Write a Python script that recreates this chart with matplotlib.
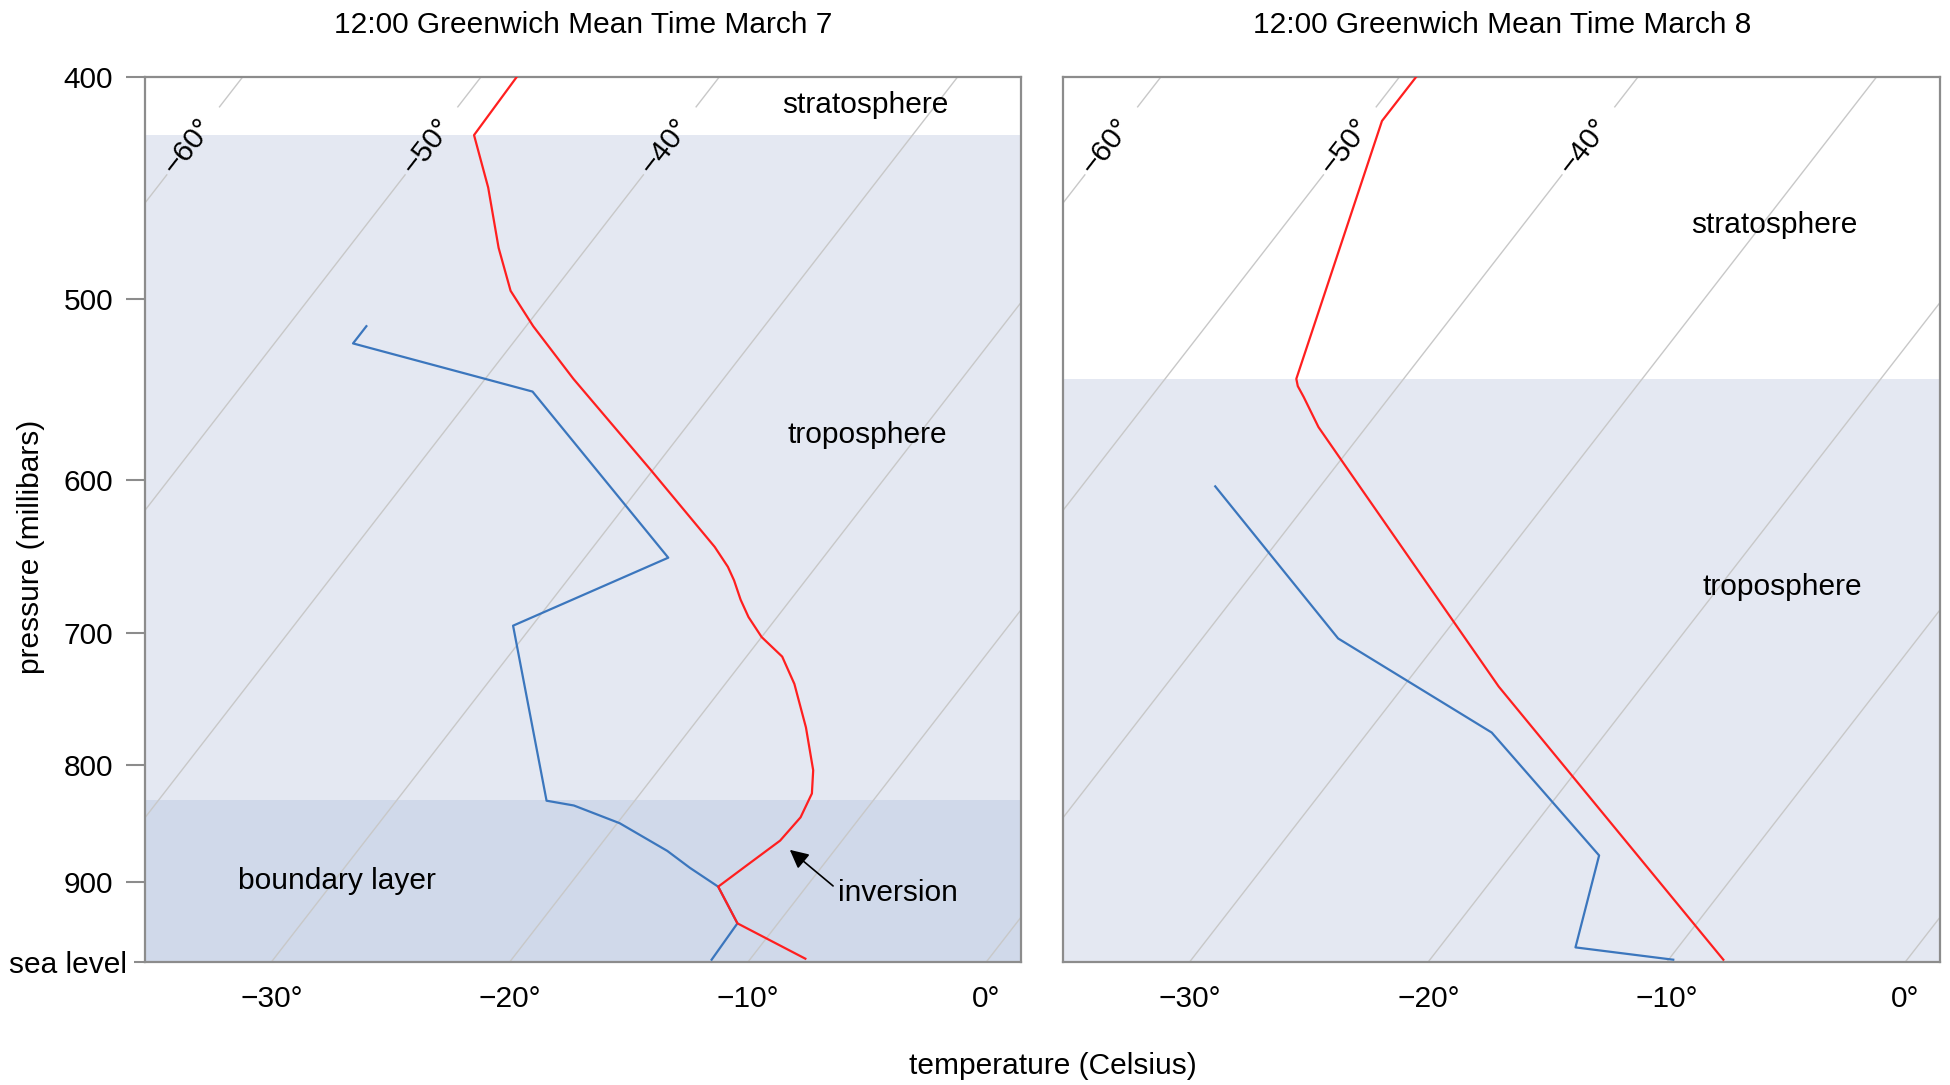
import numpy as np
import matplotlib
matplotlib.use("Agg")
import matplotlib.pyplot as plt
from matplotlib.ticker import FixedLocator, FixedFormatter, NullLocator

plt.rcParams['font.family'] = ['Liberation Sans', 'DejaVu Sans']
FS = 21.5

# soundings (pressure in millibars, temperature in Celsius)
p_temp_mar7 = [400, 424, 447, 475, 496, 514, 542, 594, 642, 655, 664, 677,
               689, 703, 717, 737, 770, 804, 823, 843, 863, 885, 904, 938, 972]
t_mar7 = [-48.5, -48.4, -46.1, -43.7, -41.8, -39.7, -36.3, -30.1, -24.9,
          -23.7, -23.0, -22.1, -21.2, -20.0, -18.5, -17.1, -15.2, -13.5, -12.8,
          -12.5, -12.6, -13.2, -13.7, -11.7, -7.7]
p_dew_mar7 = [514, 523, 549, 649, 695, 829, 833, 848, 872, 887, 904, 938, 973]
td_mar7 = [-46.7, -46.7, -37.6, -26.5, -30.8, -23.7, -22.4, -19.9, -17.0,
           -15.5, -13.7, -11.7, -11.6]

p_temp_mar8 = [400, 418, 542, 546, 552, 569, 586, 739, 973]
t_mar8 = [-49.3, -49.3, -44.5, -44.2, -43.6, -42.0, -40.2, -26.0, -7.7]
p_dew_mar8 = [604, 704, 774, 876, 961, 973]
td_mar8 = [-44.4, -34.3, -24.8, -16.3, -14.3, -9.8]

tropopause = [424, 542]      # mb, mar 7 / mar 8
boundary_top_mar7 = 828
titles = ["12:00 Greenwich Mean Time March 7", "12:00 Greenwich Mean Time March 8"]

p_ticks = [400, 500, 600, 700, 800, 900]
t_ticks = [-30, -20, -10, 0]
t_labels = ["\u221230\u00b0", "\u221220\u00b0", "\u221210\u00b0", "0\u00b0"]
isotherms = list(range(-80, 20, 10))
labelled_isotherms = [-60, -50, -40]

P_BOTTOM = 975
P_TOP = 400
K_SKEW = 32.3
ISO_LABEL_P = 429
ISO_GAP = (413, 441)

TROPO_C = "#e4e8f2"
BOUND_C = "#d0d9ea"
RED = "#ff1f1f"
BLUE = "#3b76bd"
GRID_C = "#c8c8c8"
SPINE_C = "#8c8c8c"


def skew_x(t, p):
    return np.asarray(t, float) + K_SKEW * np.log(P_BOTTOM / np.asarray(p, float))


fig = plt.figure(figsize=(19.5, 10.85), dpi=100)
ax1 = fig.add_axes([0.0745, 0.1136, 0.4491, 0.8152])
ax2 = fig.add_axes([0.5453, 0.1136, 0.4496, 0.8152])

for i, ax in enumerate([ax1, ax2]):
    ax.set_yscale('log')
    ax.set_ylim(P_BOTTOM, P_TOP)
    ax.set_xlim(-35.3, 1.45)
    ax.yaxis.set_minor_locator(NullLocator())
    ax.set_xticks(t_ticks, t_labels)
    ax.tick_params(axis='x', length=0, pad=17, labelsize=FS)
    for s in ax.spines.values():
        s.set_color(SPINE_C)
        s.set_linewidth(1.6)

    ax.axhspan(tropopause[i], P_BOTTOM, color=TROPO_C, lw=0, zorder=0)

    # skewed isotherms
    pl = np.geomspace(P_BOTTOM, P_TOP, 300)
    for t in isotherms:
        if t in labelled_isotherms:
            for seg in (pl[pl >= ISO_GAP[1]], pl[pl <= ISO_GAP[0]]):
                ax.plot(skew_x(t, seg), seg, color=GRID_C, lw=1.0, zorder=1)
        else:
            ax.plot(skew_x(t, pl), pl, color=GRID_C, lw=1.0, zorder=1)

    ax.text(0.5, 1.059, titles[i], transform=ax.transAxes, ha='center',
            va='center', fontsize=FS)

ax1.axhspan(boundary_top_mar7, P_BOTTOM, color=BOUND_C, lw=0, zorder=0.5)

ax1.set_yticks(p_ticks, [str(p) for p in p_ticks])
ax1.yaxis.set_minor_locator(FixedLocator([P_BOTTOM]))
ax1.yaxis.set_minor_formatter(FixedFormatter(["sea level"]))
ax1.tick_params(axis='y', which='major', length=13.4, width=1.5, color=SPINE_C,
                pad=9.6, labelsize=FS)
ax1.tick_params(axis='y', which='minor', length=8, width=1.5, color=SPINE_C,
                pad=5, labelsize=FS)
ax2.set_yticks([])

ax1.plot(skew_x(td_mar7, p_dew_mar7), p_dew_mar7, color=BLUE, lw=1.6, zorder=3)
ax1.plot(skew_x(t_mar7, p_temp_mar7), p_temp_mar7, color=RED, lw=1.6, zorder=4)
ax2.plot(skew_x(td_mar8, p_dew_mar8), p_dew_mar8, color=BLUE, lw=1.6, zorder=3)
ax2.plot(skew_x(t_mar8, p_temp_mar8), p_temp_mar8, color=RED, lw=1.6, zorder=4)

# isotherm labels, rotated along the lines
fig.canvas.draw()
for ax in (ax1, ax2):
    for t in labelled_isotherms:
        pa, pb = ISO_GAP
        d = ax.transData.transform([[skew_x(t, pa), pa], [skew_x(t, pb), pb]])
        ang = np.degrees(np.arctan2(d[0, 1] - d[1, 1], d[0, 0] - d[1, 0]))
        ax.text(skew_x(t, ISO_LABEL_P), ISO_LABEL_P,
                "\u2212%d\u00b0" % abs(t), rotation=ang, rotation_mode='anchor',
                ha='center', va='center', fontsize=FS, zorder=5)

ax1.text(0.8225, 0.969, "stratosphere", transform=ax1.transAxes, ha='center', va='center', fontsize=FS)
ax1.text(0.825, 0.5955, "troposphere", transform=ax1.transAxes, ha='center', va='center', fontsize=FS)
ax1.text(0.219, 0.0918, "boundary layer", transform=ax1.transAxes, ha='center', va='center', fontsize=FS)
ax1.annotate("inversion", xy=(0.736, 0.1265), xytext=(0.791, 0.0779),
             xycoords='axes fraction', textcoords='axes fraction',
             ha='left', va='center', fontsize=FS,
             arrowprops=dict(arrowstyle='-|>', color='black', lw=1.2,
                             mutation_scale=28, shrinkA=2, shrinkB=0,
                             relpos=(0, 0.6)))
ax2.text(0.811, 0.833, "stratosphere", transform=ax2.transAxes, ha='center', va='center', fontsize=FS)
ax2.text(0.820, 0.4237, "troposphere", transform=ax2.transAxes, ha='center', va='center', fontsize=FS)

fig.text(0.54, 0.0175, "temperature (Celsius)", ha='center', va='center', fontsize=FS)
fig.text(0.016, 0.496, "pressure (millibars)", ha='center', va='center',
         rotation=90, fontsize=FS)

fig.savefig("out.png", dpi=100)
